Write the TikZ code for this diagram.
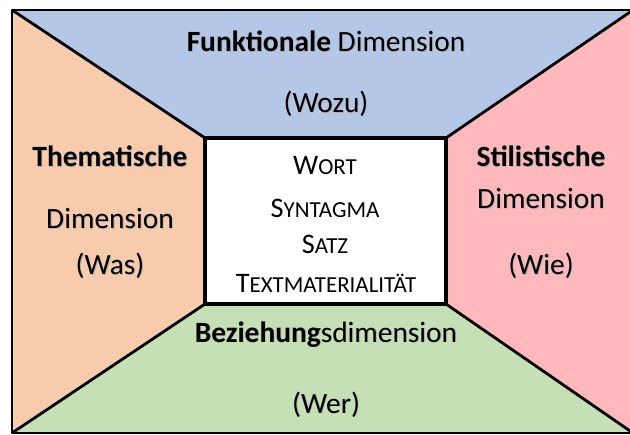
\documentclass[tikz,border=0pt]{standalone}
\usepackage{fontspec}
\setmainfont{Carlito}
\definecolor{cblue}{RGB}{180,199,231}
\definecolor{corange}{RGB}{248,203,173}
\definecolor{cpink}{RGB}{255,185,188}
\definecolor{cgreen}{RGB}{197,224,180}
\newcommand{\sck}[2]{#1{\fontsize{23}{23}\selectfont #2}}
\newcommand{\shd}[1]{\leavevmode\rlap{\kern0.9pt\raisebox{-0.9pt}{\color{black!30}#1}}#1}
\begin{document}
\begin{tikzpicture}[x=1bp,y=-1bp,
  edge/.style={line width=2.8bp,line join=round},
  lbl/.style={font=\fontsize{29.5}{29.5}\selectfont,inner sep=0pt,anchor=base},
  inl/.style={font=\fontsize{28.4}{28.4}\selectfont,inner sep=0pt,anchor=base}]
\useasboundingbox (0,0) rectangle (630,435);
\begin{scope}
\clip (0,0) rectangle (630,435);
\coordinate (A) at (12,10);
\coordinate (B) at (633,10);
\coordinate (C) at (633,433);
\coordinate (D) at (12,433);
\coordinate (a) at (205,138);
\coordinate (b) at (446,138);
\coordinate (c) at (446,304);
\coordinate (d) at (205,304);
\fill[cblue] (A) -- (B) -- (b) -- (a) -- cycle;
\fill[corange] (A) -- (a) -- (d) -- (D) -- cycle;
\fill[cpink] (B) -- (C) -- (c) -- (b) -- cycle;
\fill[cgreen] (D) -- (d) -- (c) -- (C) -- cycle;
\fill[white] (a) rectangle (c);
\draw[edge] (A) -- (B) -- (C) -- (D) -- cycle;
\draw[edge] (A) -- (a) (B) -- (b) (C) -- (c) (D) -- (d);
\draw[line width=3.4bp] (a) rectangle (c);
\end{scope}
\node[lbl] (t1) at (326,52) {\shd{\textbf{Funktionale} Dimension}};
\node[lbl] (t2) at (326,113) {\shd{(Wozu)}};
\node[lbl] (l1) at (110,167) {\shd{\textbf{Thematische}}};
\node[lbl] (l2) at (110,229) {\shd{Dimension}};
\node[lbl] (l3) at (110,275) {\shd{(Was)}};
\node[lbl] (r1) at (541,167) {\shd{\textbf{Stilistische}}};
\node[lbl] (r2) at (541,209) {\shd{Dimension}};
\node[lbl] (r3) at (541,275) {\shd{(Wie)}};
\node[lbl] (b1) at (326,342) {\shd{\textbf{Beziehung}sdimension}};
\node[lbl] (b2) at (326,413) {\shd{(Wer)}};
\node[inl] (c1) at (325,175) {\sck{W}{ORT}};
\node[inl] (c2) at (325,218) {\sck{S}{YNTAGMA}};
\node[inl] (c3) at (325,254) {\sck{S}{ATZ}};
\node[inl] (c4) at (326,293) {\sck{T}{EXTMATERIALITÄT}};
\end{tikzpicture}
\end{document}
